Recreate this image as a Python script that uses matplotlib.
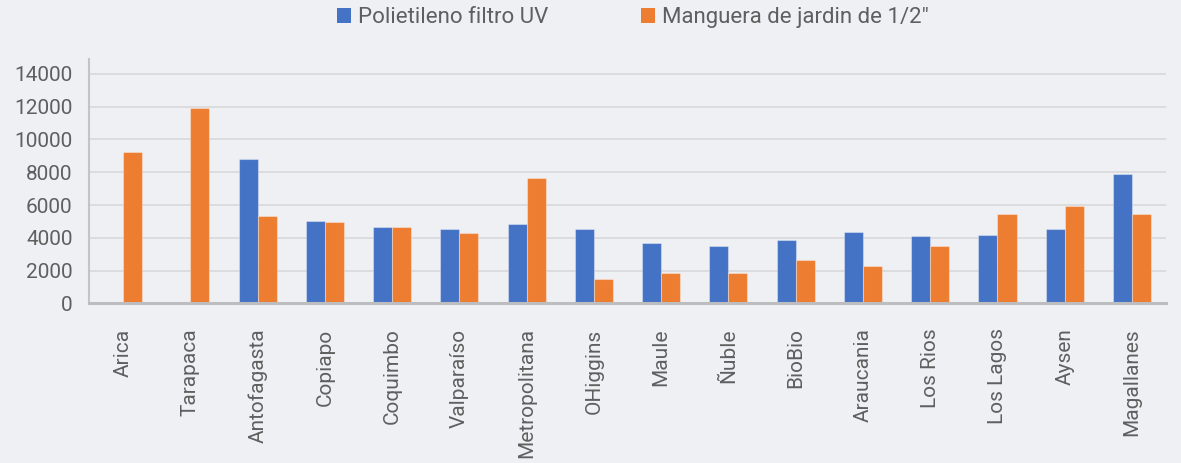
import numpy as np
import matplotlib
matplotlib.use("Agg")
import matplotlib.pyplot as plt

regions = ["Arica", "Tarapaca", "Antofagasta", "Copiapo", "Coquimbo", "Valparaíso",
           "Metropolitana", "OHiggins", "Maule", "Ñuble", "BioBio", "Araucania",
           "Los Rios", "Los Lagos", "Aysen", "Magallanes"]
polietileno = [np.nan, np.nan, 8800, 5050, 4650, 4540, 4860, 4540, 3670, 3500,
               3850, 4350, 4110, 4170, 4520, 7900]
manguera = [9230, 11900, 5350, 4990, 4650, 4290, 7660, 1520, 1840, 1840,
            2650, 2310, 3500, 5450, 5960, 5430]
series_names = ["Polietileno filtro UV", "Manguera de jardin de 1/2\""]
y_ticks = [0, 2000, 4000, 6000, 8000, 10000, 12000, 14000]

BG = "#eff0f4"
TEXT = "#5f5f5f"
BLUE = "#4472c4"
ORANGE = "#ed7d31"

plt.rcParams["font.family"] = ["Roboto", "DejaVu Sans"]

fig = plt.figure(figsize=(11.81, 4.63), dpi=100, facecolor=BG)
ax = fig.add_axes([0.0757, 0.3445, 0.9113, 0.5272])
ax.set_facecolor(BG)

x = np.arange(len(regions))
w = 0.283
edge = (1, 1, 1, 0.35)
ax.bar(x - w / 2, polietileno, w, color=BLUE, edgecolor=edge, linewidth=0.8,
       label=series_names[0], zorder=3)
ax.bar(x + w / 2, manguera, w, color=ORANGE, edgecolor=edge, linewidth=0.8,
       label=series_names[1], zorder=3)

ax.set_xlim(-0.5, len(regions) - 0.5)
ax.set_ylim(0, 14870)
ax.set_yticks(y_ticks)
ax.set_yticklabels([str(v) for v in y_ticks])
ax.set_xticks(x)
ax.set_xticklabels(regions, rotation=90)

ax.yaxis.grid(True, color="#d9d9db", linewidth=1.2, zorder=0)
ax.set_axisbelow(True)
ax.tick_params(axis="both", length=0, labelsize=15, labelcolor=TEXT)
ax.tick_params(axis="x", pad=18)
ax.tick_params(axis="y", pad=12)

for s in ("top", "right"):
    ax.spines[s].set_visible(False)
ax.spines["left"].set_color("#c4c4c6")
ax.spines["left"].set_linewidth(1.5)
ax.spines["bottom"].set_color("#bdbdbf")
ax.spines["bottom"].set_linewidth(2.2)
ax.spines["bottom"].set_zorder(4)

leg = fig.legend(loc="center", bbox_to_anchor=(0.536, 0.962), ncol=2,
                 frameon=False, fontsize=16, handlelength=0.63, handleheight=0.63,
                 handletextpad=0.3, columnspacing=4.2, labelcolor=TEXT)
for h in leg.legend_handles:
    h.set_edgecolor("none")

fig.savefig("out.png", dpi=100, facecolor=BG)
